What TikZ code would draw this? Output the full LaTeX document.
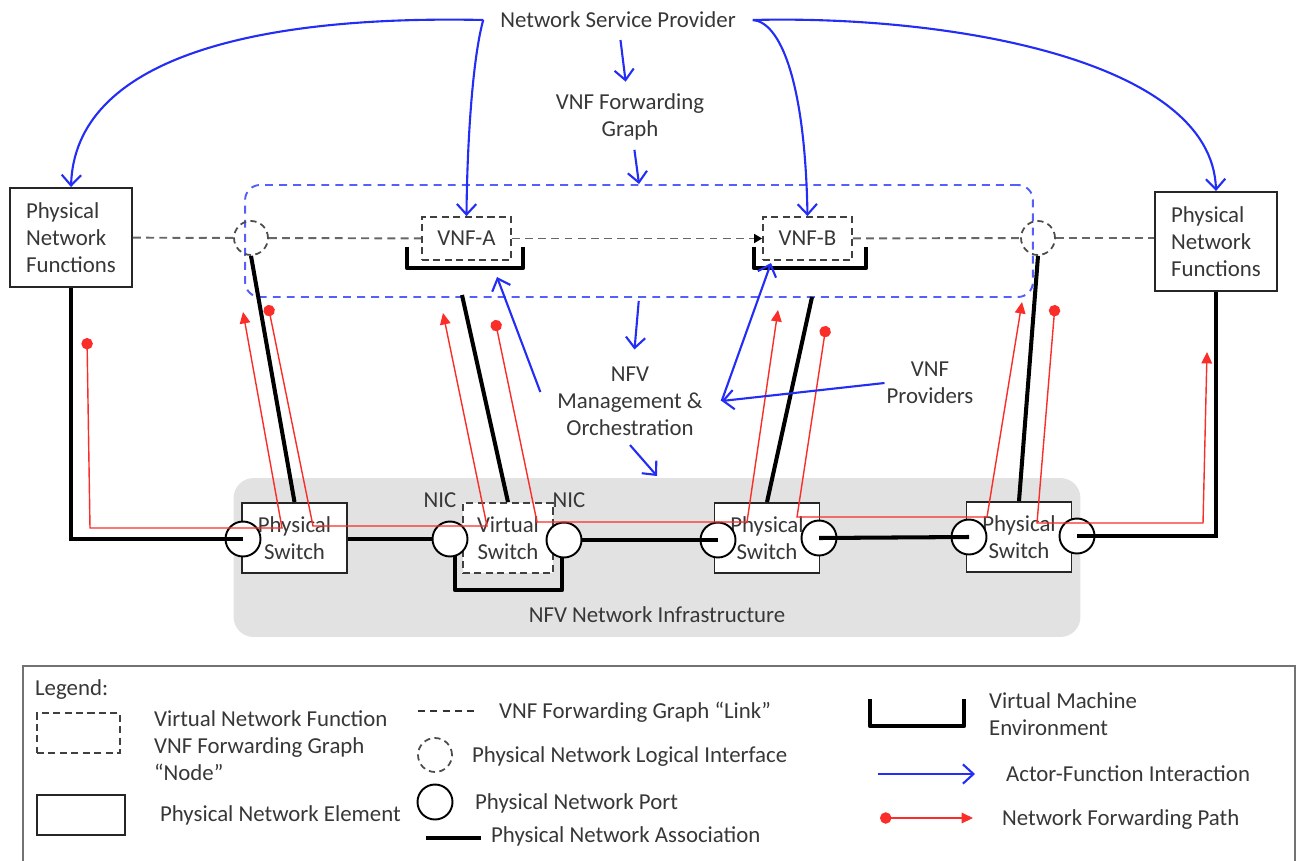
\documentclass[tikz,border=0pt]{standalone}
\usepackage{fontspec}
\setmainfont{Carlito}
\usetikzlibrary{arrows.meta, positioning}

\definecolor{actorblue}{RGB}{35,45,245}
\definecolor{frameblue}{RGB}{85,95,250}
\definecolor{fwdred}{RGB}{250,45,40}
\definecolor{infragray}{RGB}{226,226,226}
\definecolor{textgray}{RGB}{55,55,55}

\tikzset{
    pbox/.style={rectangle, draw=black!85, line width=1.1pt, fill=white, align=center},
    vbox/.style={rectangle, draw=black!75, dash pattern=on 4pt off 2.5pt, line width=1pt, fill=white, align=center},
    lif/.style={circle, draw=black!70, dash pattern=on 3.5pt off 2.5pt, line width=1pt, minimum size=0.68cm},
    port/.style={circle, draw=black, line width=1.1pt, fill=white, minimum size=0.7cm},
    fglink/.style={draw=black!60, dash pattern=on 4.5pt off 3pt, line width=1.1pt},
    assoc/.style={draw=black, line width=2.3pt},
    vmenv/.style={draw=black, line width=2.4pt, line join=round},
    actor/.style={draw=actorblue, line width=1.2pt, -{Straight Barb[length=6pt, width=11pt]}},
    fwdpath/.style={draw=fwdred, line width=0.8pt, {Circle[length=6.5pt]}-{Triangle[length=6.5pt, width=6pt]}},
}

\begin{document}
\begin{tikzpicture}[x=0.02cm, y=-0.02cm,
    every node/.style={font=\fontsize{13}{15.4}\selectfont, text=textgray, inner sep=1pt}]
    \useasboundingbox (0,0) rectangle (1300,861);

    % Background areas
    \node[rectangle, fill=infragray, rounded corners=0.4cm, minimum width=16.94cm, minimum height=3.18cm] (nfvi) at (657,557.5) {};
    \node (nfvilbl) at (657,615) {NFV Network Infrastructure};
    \node[rectangle, draw=frameblue, dash pattern=on 4.5pt off 3.5pt, line width=1.1pt, rounded corners=0.3cm, minimum width=15.76cm, minimum height=2.24cm] (fgb) at (639,241) {};

    % Actors and management
    \node (nsp) at (618,20) {Network Service Provider};
    \node[align=center] (fg) at (630,117) {VNF Forwarding\\Graph};
    \node[align=center] (mano) at (630,401) {NFV\\Management \&\\Orchestration};
    \node[align=center] (vp) at (930,383) {VNF\\Providers};

    % Physical network functions
    \node[pbox, align=left, minimum width=2.44cm, minimum height=1.98cm] (pnfL) at (71,237.5) {Physical\\Network\\Functions};
    \node[pbox, align=left, minimum width=2.44cm, minimum height=1.98cm] (pnfR) at (1216,241.5) {Physical\\Network\\Functions};

    % VNFs in their virtual machines
    \draw[vmenv] (407,247) |- (523,268) -- (523,247);
    \draw[vmenv] (754,247) |- (866,268) -- (866,247);
    \node[vbox, minimum width=1.78cm, minimum height=0.86cm] (vnfa) at (466.5,238.5) {VNF-A};
    \node[vbox, minimum width=1.78cm, minimum height=0.86cm] (vnfb) at (807.5,238.5) {VNF-B};

    % Logical interfaces
    \node[lif] (lifL) at (251,238) {};
    \node[lif] (lifR) at (1038,238) {};

    % Forwarding graph links
    \draw[fglink] (pnfL) -- (lifL);
    \draw[fglink] (lifL) -- (vnfa);
    \draw[fglink, -{Triangle[length=4.5pt, width=5pt, color=black]}] (vnfa) -- (vnfb);
    \draw[fglink] (vnfb) -- (lifR);
    \draw[fglink] (lifR) -- (lifR -| pnfR.west);

    % Switches
    \node[pbox, minimum width=2.1cm, minimum height=1.4cm] (ps1) at (294.5,538) {Physical\\Switch};
    \draw[vmenv] (455,545) |- (562,590) -- (562,545);
    \node[vbox, minimum width=1.8cm, minimum height=1.4cm] (vs) at (508,538) {Virtual\\Switch};
    \node[pbox, minimum width=2.1cm, minimum height=1.4cm] (ps2) at (767,538) {Physical\\Switch};
    \node[pbox, minimum width=2.1cm, minimum height=1.4cm] (ps3) at (1019,537) {Physical\\Switch};
    \node (nicL) at (440,500) {NIC};
    \node (nicR) at (569,500) {NIC};

    % Ports
    \node[port] (p1) at (243,539) {};
    \node[port] (p2) at (450,539) {};
    \node[port] (p3) at (564,540) {};
    \node[port] (p4) at (718,540) {};
    \node[port] (p5) at (819,538) {};
    \node[port] (p6) at (969,537) {};
    \node[port] (p7) at (1077,536) {};

    % Physical network associations
    \coordinate (vmAlow) at (462,295);
    \coordinate (vmBlow) at (812,297);
    \draw[assoc] (pnfL.south) |- (p1.center);
    \draw[assoc] (ps1.east |- p2) -- (p2.west);
    \draw[assoc] (p3.east) -- (p4.center);
    \draw[assoc] (p5.center) -- (p6.center);
    \draw[assoc] (p7.center) -| (pnfR.south);
    \draw[assoc] (lifL.south) -- (ps1.north);
    \draw[assoc] (vmAlow) -- (vs.north);
    \draw[assoc] (vmBlow) -- (ps2.north);
    \draw[assoc] (lifR.south) -- (ps3.north);

    % Network forwarding path
    \coordinate (fA1) at (87,338);   \coordinate (fA2) at (90,528);   \coordinate (fA3) at (282,528);  \coordinate (fA4) at (243,312);
    \coordinate (fB1) at (268,305);  \coordinate (fB2) at (313,526);  \coordinate (fB3) at (487,526);  \coordinate (fB4) at (443,313);
    \coordinate (fC1) at (495,320);  \coordinate (fC2) at (537,522);  \coordinate (fC3) at (747,522);  \coordinate (fC4) at (778,310);
    \coordinate (fD1) at (826,326);  \coordinate (fD2) at (797,517);  \coordinate (fD3) at (987,517);  \coordinate (fD4) at (1022,302);
    \coordinate (fE1) at (1055,305); \coordinate (fE2) at (1037,523); \coordinate (fE3) at (1203,523); \coordinate (fE4) at (1207,352);
    \draw[fwdpath] (fA1) -- (fA2) -- (fA3) -- (fA4);
    \draw[fwdpath] (fB1) -- (fB2) -- (fB3) -- (fB4);
    \draw[fwdpath] (fC1) -- (fC2) -- (fC3) -- (fC4);
    \draw[fwdpath] (fD1) -- (fD2) -- (fD3) -- (fD4);
    \draw[fwdpath] (fE1) -- (fE2) -- (fE3) -- (fE4);

    % Actor-function interactions
    \coordinate (nspW) at ([xshift=-0.3cm]nsp.west);
    \coordinate (nspE) at ([xshift=0.3cm]nsp.east);
    \coordinate (nfviTop) at (657,476);
    \coordinate (vmA) at (497,277);
    \coordinate (vmB) at (771,263);
    \coordinate (manoE) at ([xshift=0.34cm]mano.east);
    \draw[actor] (nspW) .. controls (250,15) and (75,60) .. (pnfL.north);
    \draw[actor] (nspW) .. controls (472,60) and (467,150) .. (vnfa.north);
    \draw[actor] (nspE) .. controls (780,22) and (805,80) .. (vnfb.north);
    \draw[actor] (nspE) .. controls (950,15) and (1212,60) .. (pnfR.north);
    \draw[actor, shorten <=0.2cm, shorten >=0.2cm] (nsp) -- (fg);
    \draw[actor, shorten <=0.15cm] (fg) -- (fgb.north);
    \draw[actor, shorten <=0.06cm, shorten >=0.3cm] (fgb.south) -- (mano);
    \draw[actor] ([yshift=-0.15cm]mano.south) -- (nfviTop);
    \draw[actor] ([shift={(-0.3cm,0.18cm)}]mano.west) -- (vmA);
    \draw[actor] (manoE) -- (vmB);
    \draw[actor] (vp.west) -- (manoE);

    % Legend
    \draw[draw=black!55, line width=1.2pt] (23,861) |- (1295,666) -- (1295,861);
    \node[anchor=west] (lgTitle) at (33,690) {Legend:};
    \node[vbox, minimum width=1.66cm, minimum height=0.8cm] (lgVnf) at (78.5,733) {};
    \node[anchor=west, align=left] (lgVnfTxt) at (152,746) {Virtual Network Function\\VNF Forwarding Graph\\“Node”};
    \node[pbox, minimum width=1.76cm, minimum height=0.8cm] (lgPne) at (81,815) {};
    \node[anchor=west] (lgPneTxt) at (158,815) {Physical Network Element};
    \coordinate (lgLinkA) at (418,711);
    \coordinate (lgLinkB) at (476,711);
    \draw[draw=black!80, dash pattern=on 4pt off 3pt, line width=0.9pt] (lgLinkA) -- (lgLinkB);
    \node[anchor=west] (lgLinkTxt) at (497,712) {VNF Forwarding Graph “Link”};
    \node[lif] (lgLif) at (435,755) {};
    \node[anchor=west] (lgLifTxt) at (470,757) {Physical Network Logical Interface};
    \node[port] (lgPort) at (435,802) {};
    \node[anchor=west] (lgPortTxt) at (473,803) {Physical Network Port};
    \coordinate (lgAssocA) at (426,838);
    \coordinate (lgAssocB) at (481,838);
    \draw[draw=black, line width=1.8pt] (lgAssocA) -- (lgAssocB);
    \node[anchor=west] (lgAssocTxt) at (489,836) {Physical Network Association};
    \draw[vmenv] (870,699) |- (964,726) -- (964,699);
    \node[anchor=west, align=left] (lgVmTxt) at (987,714) {Virtual Machine\\Environment};
    \coordinate (lgActorA) at (878,774);
    \coordinate (lgActorB) at (975,774);
    \draw[actor] (lgActorA) -- (lgActorB);
    \node[anchor=west] (lgActorTxt) at (1004,774) {Actor-Function Interaction};
    \coordinate (lgFwdA) at (880,818);
    \coordinate (lgFwdB) at (973,818);
    \draw[fwdpath] (lgFwdA) -- (lgFwdB);
    \node[anchor=west] (lgFwdTxt) at (1000,820) {Network Forwarding Path};
\end{tikzpicture}
\end{document}
